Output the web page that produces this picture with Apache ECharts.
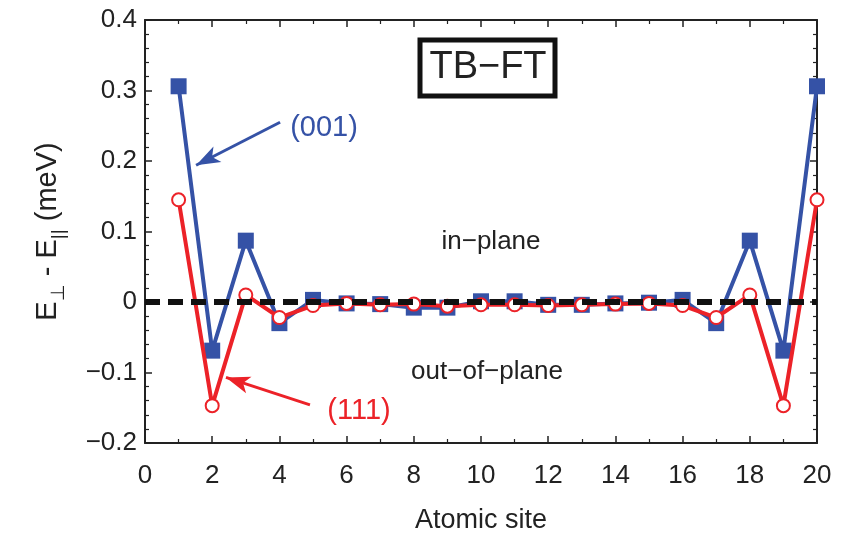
<!DOCTYPE html>
<html>
<head>
<meta charset="utf-8">
<script src="https://cdn.jsdelivr.net/npm/echarts@6/dist/echarts.min.js"></script>
<style>
  html, body { margin: 0; padding: 0; background: #fff; }
  #chart { width: 845px; height: 541px; }
</style>
</head>
<body>
<div id="chart"></div>
<script>
// data
var sites = [1, 2, 3, 4, 5, 6, 7, 8, 9, 10, 11, 12, 13, 14, 15, 16, 17, 18, 19, 20];
var e001 = [0.306, -0.069, 0.087, -0.030, 0.003, -0.002, -0.003, -0.008, -0.008, 0.001,
            0.001, -0.004, -0.004, -0.002, -0.001, 0.003, -0.030, 0.087, -0.069, 0.306];
var e111 = [0.145, -0.147, 0.010, -0.022, -0.005, -0.002, -0.004, -0.003, -0.006, -0.004,
            -0.004, -0.005, -0.004, -0.003, -0.002, -0.005, -0.022, 0.010, -0.147, 0.145];

var blue = '#3552a6';
var red = '#ec2228';
var font = 'Liberation Sans, Arial, sans-serif';

function pairs(ys) {
  return sites.map(function (s, i) { return [s, ys[i]]; });
}

var chart = echarts.init(document.getElementById('chart'));

// axis with inward ticks, no zero-crossing, used for all four sides of the frame
function frameAxis(extra, minorSplit) {
  return Object.assign({
    axisLine: { show: true, onZero: false, lineStyle: { color: '#222', width: 2 } },
    axisTick: { show: true, inside: true, length: 7, lineStyle: { color: '#222', width: 1.5 } },
    minorTick: { show: true, splitNumber: minorSplit, length: 4, lineStyle: { color: '#222', width: 1.2 } },
    splitLine: { show: false }
  }, extra);
}

var option = {
  animation: false,
  grid: { left: 145, right: 28, top: 20, bottom: 98 },
  xAxis: [
    frameAxis({
      type: 'value', min: 0, max: 20, interval: 2,
      name: 'Atomic site', nameLocation: 'middle', nameGap: 64,
      nameTextStyle: { fontFamily: font, fontSize: 27, color: '#222' },
      axisLabel: { fontFamily: font, fontSize: 26, color: '#222', margin: 20 }
    }, 2),
    frameAxis({
      type: 'value', min: 0, max: 20, interval: 2, position: 'top',
      axisLabel: { show: false }
    }, 2)
  ],
  yAxis: [
    frameAxis({
      type: 'value', min: -0.2, max: 0.4, interval: 0.1,
      name: '{e|E}{s|⊥}{e| - E}{s|||}{e| (meV)}', nameLocation: 'middle', nameGap: 77,
      nameTextStyle: {
        rich: {
          e: { fontFamily: font, fontSize: 29, color: '#222' },
          s: { fontFamily: font, fontSize: 19, color: '#222', padding: [22, 0, 0, 0] }
        }
      },
      axisLabel: {
        fontFamily: font, fontSize: 26, color: '#222', margin: 8,
        formatter: function (v) {
          if (Math.abs(v) < 1e-9) return '0';
          var t = (Math.round(v * 10) / 10).toFixed(1);
          return t.replace('-', '\u2212');
        }
      }
    }, 5),
    frameAxis({
      type: 'value', min: -0.2, max: 0.4, interval: 0.1, position: 'right',
      axisLabel: { show: false }
    }, 5)
  ],
  series: [
    {
      name: '(001)', type: 'line', data: pairs(e001),
      symbol: 'rect', symbolSize: 16,
      lineStyle: { color: blue, width: 4 },
      itemStyle: { color: blue },
      z: 3,
      markLine: {
        silent: true, symbol: ['none', 'arrow'], symbolSize: [13, 24],
        lineStyle: { color: blue, width: 3, type: 'solid' },
        label: { show: false },
        data: [[{ coord: [4.02, 0.255] }, { coord: [1.52, 0.194] }]]
      }
    },
    {
      name: '(111)', type: 'line', data: pairs(e111),
      symbol: 'emptyCircle', symbolSize: 13,
      lineStyle: { color: red, width: 4 },
      itemStyle: { color: red, borderWidth: 4.5 },
      z: 4,
      markLine: {
        silent: true, symbol: ['none', 'arrow'], symbolSize: [13, 24],
        lineStyle: { color: red, width: 3, type: 'solid' },
        label: { show: false },
        data: [[{ coord: [4.91, -0.146] }, { coord: [2.41, -0.107] }]]
      }
    },
    {
      name: 'zero', type: 'line', data: [],
      z: 10,
      markLine: {
        silent: true, symbol: ['none', 'none'],
        lineStyle: { color: '#111', width: 6, type: [15, 8] },
        label: { show: false },
        data: [{ yAxis: 0 }]
      }
    }
  ],
  graphic: [
    {
      type: 'rect', shape: { x: 420, y: 40, width: 135, height: 56 },
      style: { fill: '#fff', stroke: '#111', lineWidth: 5 }, z: 20
    },
    {
      type: 'text', x: 488, y: 68, z: 21,
      style: { text: 'TB\u2212FT', font: '38px ' + font, fill: '#222', align: 'center', verticalAlign: 'middle' }
    },
    {
      type: 'text', x: 324, y: 128, z: 21,
      style: { text: '(001)', font: '29px ' + font, fill: blue, align: 'center', verticalAlign: 'middle' }
    },
    {
      type: 'text', x: 359, y: 411, z: 21,
      style: { text: '(111)', font: '29px ' + font, fill: red, align: 'center', verticalAlign: 'middle' }
    },
    {
      type: 'text', x: 491, y: 242, z: 21,
      style: { text: 'in\u2212plane', font: '26px ' + font, fill: '#222', align: 'center', verticalAlign: 'middle' }
    },
    {
      type: 'text', x: 487, y: 372, z: 21,
      style: { text: 'out\u2212of\u2212plane', font: '26px ' + font, fill: '#222', align: 'center', verticalAlign: 'middle' }
    }
  ]
};

chart.setOption(option);
</script>
</body>
</html>
